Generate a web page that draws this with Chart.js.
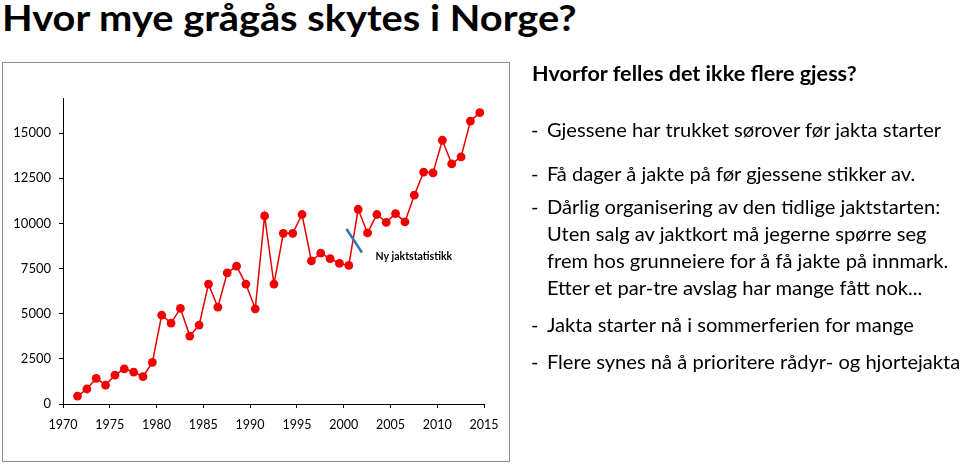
<!DOCTYPE html>
<html>
<head>
<meta charset="utf-8">
<script src="https://cdn.jsdelivr.net/npm/chart.js@4"></script>
<style>
  html, body { margin:0; padding:0; background:#fff; }
  body { width:960px; height:465px; position:relative; overflow:hidden; font-family: Lato, "Open Sans", sans-serif; color:#000; }
  #title { position:absolute; left:2px; top:-1px; font-size:36px; font-weight:bold; line-height:36px; white-space:nowrap; transform:scaleX(1.105); transform-origin:left top; }
  #box { position:absolute; left:2px; top:62px; width:506px; height:398px; border:1.5px solid #8c8c8c; }
  #chart { position:absolute; left:0; top:0; }
  #sub { position:absolute; left:532px; top:62px; font-size:20px; font-weight:bold; line-height:22px; white-space:nowrap; transform:scaleX(1.08); transform-origin:left top; }
  .b { position:absolute; left:531px; font-size:19px; line-height:27px; white-space:nowrap; transform:scaleX(1.06); transform-origin:left top; }
  .b .d { display:inline-block; width:15px; }
  .b .c { display:inline-block; vertical-align:top; }
</style>
</head>
<body>
<div id="title">Hvor mye grågås skytes i Norge?</div>
<div id="box"></div>
<canvas id="chart" width="960" height="465"></canvas>
<div id="sub">Hvorfor felles det ikke flere gjess?</div>
<div class="b" style="top:116px"><span class="d">-</span><span class="c">Gjessene har trukket sørover før jakta starter</span></div>
<div class="b" style="top:160px"><span class="d">-</span><span class="c">Få dager å jakte på før gjessene stikker av.</span></div>
<div class="b" style="top:193px"><span class="d">-</span><span class="c">Dårlig organisering av den tidlige jaktstarten:<br>Uten salg av jaktkort må jegerne spørre seg<br>frem hos grunneiere for å få jakte på innmark.<br>Etter et par-tre avslag har mange fått nok...</span></div>
<div class="b" style="top:311px"><span class="d">-</span><span class="c">Jakta starter nå i sommerferien for mange</span></div>
<div class="b" style="top:348px"><span class="d">-</span><span class="c">Flere synes nå å prioritere rådyr- og hjortejakta</span></div>
<script>
// ---- data ----
const years = [1971,1972,1973,1974,1975,1976,1977,1978,1979,1980,
               1981,1982,1983,1984,1985,1986,1987,1988,1989,1990,
               1991,1992,1993,1994,1995,1996,1997,1998,1999,2000,
               2001,2002,2003,2004,2005,2006,2007,2008,2009,2010,
               2011,2012,2013,2014];
const harvest = [440, 830, 1420, 1050, 1600, 1950, 1770, 1510, 2300, 4920,
                 4480, 5290, 3760, 4370, 6640, 5360, 7260, 7630, 6640, 5270,
                 10410, 6640, 9450, 9450, 10490, 7920, 8350, 8050, 7780, 7670,
                 10780, 9470, 10490, 10060, 10540, 10080, 11560, 12840, 12790, 14600,
                 13290, 13680, 15660, 16130];
const yTickValues = [0, 2500, 5000, 7500, 10000, 12500, 15000];
const xTickLabels = [1970, 1975, 1980, 1985, 1990, 1995, 2000, 2005, 2010, 2015];
// marker for the change of hunting statistics (data units)
const markYears = [1999.75, 2001.4];
const markValues = [9690, 8390];
const markLabel = "Ny jaktstatistikk";
const markLabelAt = [2002.85, 8150];

// seasons are plotted half a year after the year tick
const SEASON_OFFSET = 0.55;

const labelPlugin = {
  id: 'markLabel',
  afterDatasetsDraw(chart) {
    const {ctx, scales} = chart;
    ctx.save();
    ctx.font = 'bold 10.5px Lato, sans-serif';
    ctx.fillStyle = '#000';
    ctx.textBaseline = 'middle';
    ctx.textAlign = 'left';
    ctx.fillText(markLabel, scales.x.getPixelForValue(markLabelAt[0]), scales.y.getPixelForValue(markLabelAt[1]));
    ctx.restore();
  }
};

new Chart(document.getElementById('chart'), {
  type: 'line',
  data: {
    datasets: [
      {
        data: markYears.map((x, i) => ({x, y: markValues[i]})),
        borderColor: '#2E75B6',
        borderWidth: 2.5,
        pointRadius: 0,
        order: 0
      },
      {
        data: years.map((x, i) => ({x, y: harvest[i]})),
        borderColor: '#E60000',
        backgroundColor: '#FF0000',
        borderWidth: 1.5,
        pointRadius: 4.4,
        pointBorderWidth: 0,
        pointBackgroundColor: '#F20000',
        tension: 0,
        order: 1
      }
    ]
  },
  options: {
    responsive: false,
    animation: false,
    events: [],
    layout: { padding: { left: 0, top: 98, right: 476, bottom: 0 } },
    plugins: { legend: { display: false }, tooltip: { enabled: false } },
    scales: {
      x: {
        type: 'linear',
        min: xTickLabels[0] - SEASON_OFFSET,
        max: xTickLabels[xTickLabels.length - 1] - SEASON_OFFSET,
        afterBuildTicks: s => { s.ticks = xTickLabels.map(v => ({ value: v - SEASON_OFFSET })); },
        afterFit: s => { s.height = 61; },
        ticks: {
          autoSkip: false, maxRotation: 0, color: '#000', padding: 9,
          font: { family: 'Lato', size: 12.5 },
          callback: v => String(Math.round(v + SEASON_OFFSET))
        },
        grid: { drawOnChartArea: false, drawTicks: true, tickLength: 4, color: '#000' },
        border: { display: true, color: '#000', width: 1 }
      },
      y: {
        type: 'linear',
        min: 0,
        max: 16940,
        afterBuildTicks: s => { s.ticks = yTickValues.map(v => ({ value: v })); },
        afterFit: s => { s.width = 63; },
        ticks: { color: '#000', padding: 8, font: { family: 'Lato', size: 13 }, callback: v => String(v) },
        grid: { drawOnChartArea: false, drawTicks: true, tickLength: 4, color: '#000' },
        border: { display: true, color: '#000', width: 1 }
      }
    }
  },
  plugins: [labelPlugin]
});
</script>
</body>
</html>
